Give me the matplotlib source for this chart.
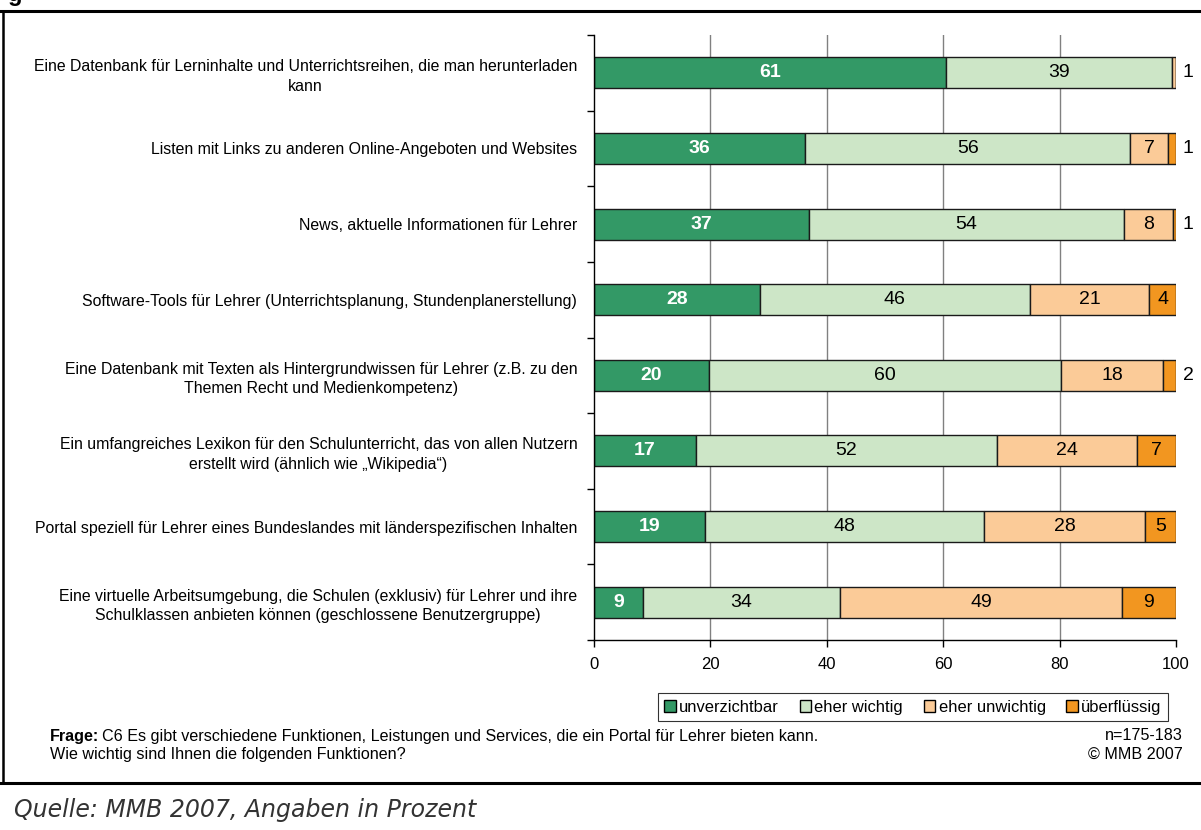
import matplotlib
matplotlib.use("Agg")
import matplotlib.pyplot as plt
from matplotlib.lines import Line2D
from matplotlib.patches import Patch

plt.rcParams["font.family"] = ["Liberation Sans", "DejaVu Sans"]

categories = [
    "Eine Datenbank für Lerninhalte und Unterrichtsreihen, die man herunterladen\nkann",
    "Listen mit Links zu anderen Online-Angeboten und Websites",
    "News, aktuelle Informationen für Lehrer",
    "Software-Tools für Lehrer (Unterrichtsplanung, Stundenplanerstellung)",
    "Eine Datenbank mit Texten als Hintergrundwissen für Lehrer (z.B. zu den\nThemen Recht und Medienkompetenz)",
    "Ein umfangreiches Lexikon für den Schulunterricht, das von allen Nutzern\nerstellt wird (ähnlich wie „Wikipedia“)",
    "Portal speziell für Lehrer eines Bundeslandes mit länderspezifischen Inhalten",
    "Eine virtuelle Arbeitsumgebung, die Schulen (exklusiv) für Lehrer und ihre\nSchulklassen anbieten können (geschlossene Benutzergruppe)",
]
series_names = ["unverzichtbar", "eher wichtig", "eher unwichtig", "überflüssig"]

# segment widths (percent)
unverzichtbar = [60.5, 36.3, 36.9, 28.5, 19.8, 17.5, 19.1, 8.4]
eher_wichtig = [38.8, 55.8, 54.2, 46.4, 60.4, 51.7, 47.9, 33.9]
eher_unwichtig = [0.7, 6.6, 8.3, 20.5, 17.6, 24.1, 27.7, 48.4]
ueberfluessig = [0.0, 1.3, 0.6, 4.6, 2.2, 6.7, 5.3, 9.3]

# printed labels
lab_unverzichtbar = ["61", "36", "37", "28", "20", "17", "19", "9"]
lab_eher_wichtig = ["39", "56", "54", "46", "60", "52", "48", "34"]
lab_eher_unwichtig = ["1", "7", "8", "21", "18", "24", "28", "49"]
lab_ueberfluessig = ["", "1", "1", "4", "2", "7", "5", "9"]

colors = ["#339966", "#CDE6C7", "#FBCB98", "#F29620"]
series = [unverzichtbar, eher_wichtig, eher_unwichtig, ueberfluessig]
labels = [lab_unverzichtbar, lab_eher_wichtig, lab_eher_unwichtig, lab_ueberfluessig]

W, H = 1201, 830
fig = plt.figure(figsize=(W / 100, H / 100), dpi=100)
ax = fig.add_axes([594 / W, 1 - 640 / H, (1176 - 594) / W, (640 - 35) / H])

ypos = list(range(len(categories)))
for g in [20, 40, 60, 80]:
    ax.axvline(g, color="#808080", lw=1.0, zorder=0)

left = [0.0] * len(categories)
for s, (vals, col, labs) in enumerate(zip(series, colors, labels)):
    ax.barh(ypos, vals, left=left, height=0.41, color=col,
            edgecolor="#1a1a1a", linewidth=1.0, zorder=2)
    for i, (v, lab) in enumerate(zip(vals, labs)):
        if not lab:
            continue
        if v >= 3:
            ax.text(left[i] + v / 2, i, lab, ha="center", va="center",
                    fontsize=14, zorder=3,
                    color="white" if s == 0 else "black",
                    fontweight="bold" if s == 0 else "normal")
        else:
            ax.text(101.2, i, lab, ha="left", va="center",
                    fontsize=14, color="black", clip_on=False)
    left = [a + b for a, b in zip(left, vals)]

ax.set_xlim(0, 100)
ax.set_ylim(len(categories) - 0.5, -0.5)
ax.set_xticks([0, 20, 40, 60, 80, 100])
ax.tick_params(axis="x", direction="out", length=5, width=1, labelsize=12, pad=7)
ax.set_yticks(ypos)
ax.set_yticklabels(categories, fontsize=11.4, multialignment="center", linespacing=1.35)
ax.set_yticks([y - 0.5 for y in range(len(categories) + 1)], minor=True)
ax.tick_params(axis="y", which="major", length=0, pad=12)
ax.tick_params(axis="y", which="minor", direction="out", length=5, width=1)
for side in ["top", "right"]:
    ax.spines[side].set_visible(False)
for side in ["left", "bottom"]:
    ax.spines[side].set_linewidth(1.0)

handles = [Patch(facecolor=c, edgecolor="black", linewidth=1.0) for c in colors]
leg = fig.legend(handles, series_names, loc="center", ncol=4,
                 bbox_to_anchor=(913 / W, 1 - 707 / H), frameon=True,
                 fancybox=False, edgecolor="black", fontsize=11.9,
                 handlelength=0.7, handleheight=0.7, handletextpad=0.2,
                 columnspacing=1.25, borderpad=0.4)
leg.get_frame().set_linewidth(0.8)

# footer
fx, fy1, fy2 = 50 / W, 1 - 736 / H, 1 - 754 / H
t_bold = fig.text(fx, fy1, "Frage:", fontsize=11.6, fontweight="bold", va="center")
fig.canvas.draw()
bb = t_bold.get_window_extent(fig.canvas.get_renderer())
fig.text((bb.x1 + 3) / W, fy1,
         "C6 Es gibt verschiedene Funktionen, Leistungen und Services, die ein Portal für Lehrer bieten kann.",
         fontsize=11.6, va="center")
fig.text(fx, fy2, "Wie wichtig sind Ihnen die folgenden Funktionen?", fontsize=11.6, va="center")
fig.text(1183 / W, fy1, "n=175-183", fontsize=11.6, ha="right", va="center")
fig.text(1183 / W, fy2, "© MMB 2007", fontsize=11.6, ha="right", va="center")

fig.text(14 / W, 1 - 810 / H, "Quelle: MMB 2007, Angaben in Prozent",
         family="DejaVu Sans", style="italic", fontsize=17, color="#333333", va="center")

# cut-off title glyph at the very top
fig.text(8 / W, 1 - 1 / H, "g", fontsize=17, fontweight="bold", va="baseline")

# frame lines
fig.add_artist(Line2D([0, 1], [1 - 11 / H, 1 - 11 / H], color="black", lw=2.2))
fig.add_artist(Line2D([3 / W, 3 / W], [1 - 11 / H, 1 - 783 / H], color="black", lw=1.8))
fig.add_artist(Line2D([0, 1], [1 - 783 / H, 1 - 783 / H], color="black", lw=2.2))

plt.savefig("out.png", dpi=100)
